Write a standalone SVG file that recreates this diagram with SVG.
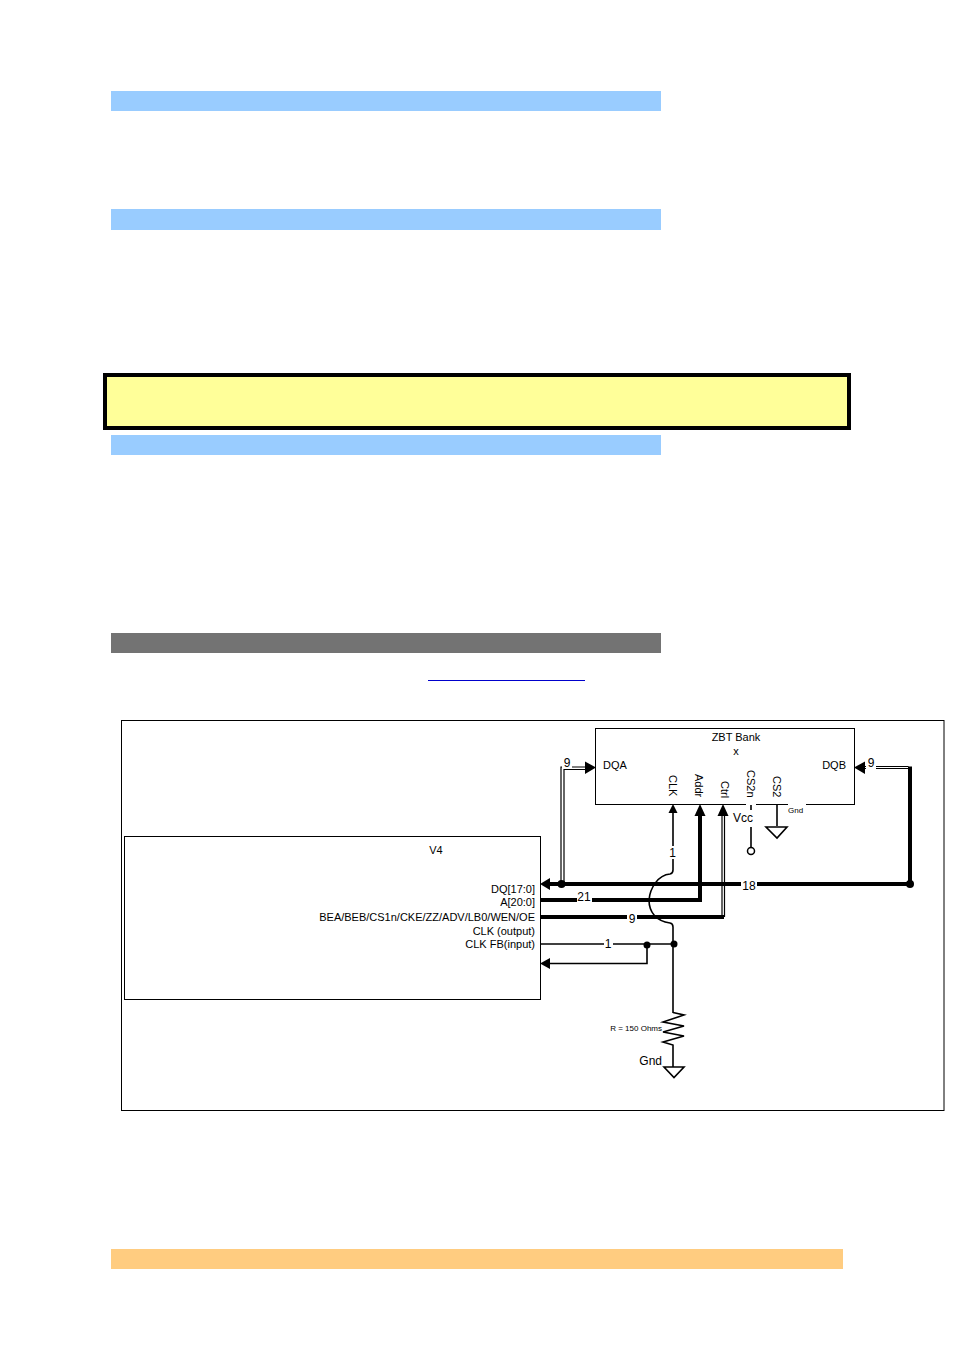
<svg xmlns="http://www.w3.org/2000/svg" width="954" height="1350" viewBox="0 0 954 1350">
<style>
text{font-family:"Liberation Sans",Arial,sans-serif;font-size:11px;fill:#000}
.r{text-anchor:end}.m{text-anchor:middle}
.box{fill:#fff;stroke:#000;stroke-width:1}
.w{fill:none;stroke:#000;stroke-linejoin:miter}
.t1{stroke-width:1.6}.t4{stroke-width:4}.d{stroke-width:1.2}
.bg{fill:#fff;stroke:none}
.a{fill:#000;stroke:none}
.n{font-size:12px;text-anchor:middle}
</style>
<rect width="954" height="1350" fill="#fff"/>
<g id="bars">
<rect x="111" y="91" width="550" height="20" fill="#99ccff"/>
<rect x="111" y="209" width="550" height="21" fill="#99ccff"/>
<rect x="105" y="375" width="744" height="53" fill="#ffff99" stroke="#000" stroke-width="4"/>
<rect x="111" y="435" width="550" height="20" fill="#99ccff"/>
<rect x="111" y="633" width="550" height="20" fill="#737373"/>
<rect x="428" y="680" width="157" height="1" fill="#0000cc"/>
<rect x="111" y="1249" width="732" height="20" fill="#ffcc80"/>
</g>
<rect id="frame" x="121.5" y="720.5" width="822.5" height="390" class="box"/>
<g id="zbt-bank">
<rect x="595.5" y="728.5" width="259" height="76" class="box"/>
<rect x="788" y="802" width="18" height="5" class="bg"/>
<rect x="746" y="802" width="10" height="5" class="bg"/>
<text x="736" y="741" class="m">ZBT Bank</text>
<text x="736" y="755" class="m">x</text>
<text x="603" y="769">DQA</text>
<text x="846" y="769" class="r">DQB</text>
<text transform="translate(669,775) rotate(90)">CLK</text>
<text transform="translate(695,774) rotate(90)">Addr</text>
<text transform="translate(721,781) rotate(90)">Ctrl</text>
<text transform="translate(747,770) rotate(90)">CS2n</text>
<text transform="translate(773,776) rotate(90)">CS2</text>
<text x="788" y="813" style="font-size:8px">Gnd</text>
</g>
<g id="v4">
<rect x="124.5" y="836.5" width="416" height="163" class="box"/>
<text x="436" y="854" class="m">V4</text>
<text x="535" y="893" class="r">DQ[17:0]</text>
<text x="535" y="906" class="r">A[20:0]</text>
<text x="535" y="921" class="r">BEA/BEB/CS1n/CKE/ZZ/ADV/LB0/WEN/OE</text>
<text x="535" y="935" class="r">CLK (output)</text>
<text x="535" y="948" class="r">CLK FB(input)</text>
</g>
<g id="connectors">
<path class="w d" d="M561 884V767H586M564 884V769.500H586"/>
<path class="a" d="M585 761.500L596 767.500L585 774Z"/>
<path class="w d" d="M864 766.500H908.500M864 768.500H908.500"/>
<path class="w t4" d="M910 766.500V884"/>
<path class="a" d="M865 761.500L854 767.500L865 774Z"/>
<path class="w t4" d="M548 884H910"/>
<path class="a" d="M540 884L550 878V890Z"/>
<circle cx="561.500" cy="884" r="4" class="a"/>
<circle cx="910" cy="884" r="4" class="a"/>
<path class="w t4" d="M540 900H700V814"/>
<path class="a" d="M700 804L705.500 816H694.500Z"/>
<path class="w t4" d="M540 917H724"/>
<path class="w d" d="M722 915V814M724.500 917V814"/>
<path class="a" d="M723 804L728.500 816H717.500Z"/>
<path class="w t1" d="M673 812V870Q673 873.500 670 874C658 875 650 888 649 900C649 912 656 921 670 923Q673 923.500 673 927V1013"/>
<path class="a" d="M673 804L677.500 813H668.500Z"/>
<path class="w t1" d="M540 944H674"/>
<path class="w t1" d="M647 945V963.500H550"/>
<path class="a" d="M540 963.500L550 958V969Z"/>
<circle cx="647" cy="945" r="3.500" class="a"/>
<circle cx="674" cy="944" r="3.500" class="a"/>
<path class="w t1" d="M673 1012.500L684 1015L663 1022L684 1026L663 1032L684 1036L663 1042L673 1045V1067"/>
<path class="w t1" d="M664 1067H684L674 1077.500Z"/>
<path class="w t1" d="M751 805V810M751 827V847"/>
<circle cx="751" cy="851" r="3.500" fill="#fff" stroke="#000" stroke-width="1.500"/>
<path class="w t1" d="M777 805V826"/>
<path class="w t1" d="M766 827H787L777 838Z"/>
</g>
<g id="labels">
<rect x="562" y="756" width="10" height="12" class="bg"/><text x="567" y="767" class="n">9</text>
<rect x="866" y="756" width="10" height="14" class="bg"/><text x="871" y="767" class="n">9</text>
<rect x="668" y="846" width="10" height="13" class="bg"/><text x="672.500" y="857" class="n">1</text>
<rect x="741" y="878" width="16" height="12" class="bg"/><text x="749" y="890" class="n">18</text>
<rect x="577" y="892" width="15" height="12" class="bg"/><text x="584" y="901" class="n">21</text>
<rect x="627" y="913" width="10" height="9" class="bg"/><text x="632" y="923" class="n">9</text>
<rect x="604" y="939" width="9" height="10" class="bg"/><text x="608" y="948" class="n">1</text>
<text x="743" y="822" class="n">Vcc</text>
<text x="662" y="1031" class="r" style="font-size:8px">R = 150 Ohms</text>
<text x="662" y="1065" class="r" style="font-size:12px">Gnd</text>
</g>
</svg>
